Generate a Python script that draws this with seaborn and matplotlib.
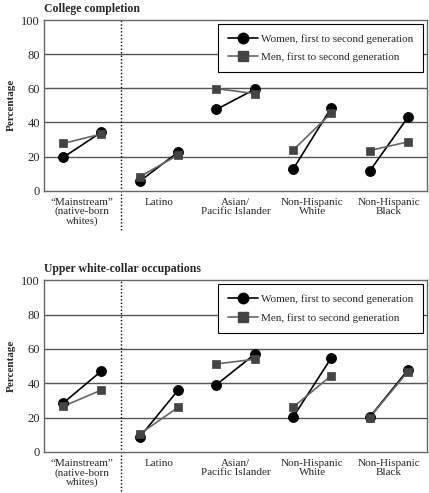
import pandas as pd
import matplotlib.pyplot as plt
import seaborn as sns
from matplotlib.lines import Line2D

# Dati
gruppi = ["\u201cMainstream\u201d\n(native-born\nwhites)", "Latino",
          "Asian/\nPacific Islander", "Non-Hispanic\nWhite", "Non-Hispanic\nBlack"]

college_donne_prima = [19.5, 5.5, 47.6, 12.5, 11.4]
college_donne_seconda = [34.3, 22.6, 59.4, 48.6, 43.0]
college_uomini_prima = [27.7, 8.2, 59.8, 23.7, 23.5]
college_uomini_seconda = [33.2, 20.9, 56.9, 45.5, 28.6]

colletti_donne_prima = [28.5, 8.7, 39.2, 20.2, 20.2]
colletti_donne_seconda = [47.2, 36.0, 56.9, 54.8, 47.8]
colletti_uomini_prima = [26.6, 10.5, 51.3, 26.0, 20.0]
colletti_uomini_seconda = [36.1, 26.0, 54.0, 44.5, 46.8]

sesso = ["Women, first to second generation", "Men, first to second generation"]
titoli = ["College completion", "Upper white-collar occupations"]
y_ticks = [0, 20, 40, 60, 80, 100]


def costruisci_df(donne_1, donne_2, uomini_1, uomini_2):
    righe = []
    for i in range(len(gruppi)):
        for s, v1, v2 in [(sesso[0], donne_1[i], donne_2[i]), (sesso[1], uomini_1[i], uomini_2[i])]:
            righe.append({"gruppo": i, "sesso": s, "x": i - 0.25, "valore": v1})
            righe.append({"gruppo": i, "sesso": s, "x": i + 0.25, "valore": v2})
    return pd.DataFrame(righe)


dati = [
    costruisci_df(college_donne_prima, college_donne_seconda, college_uomini_prima, college_uomini_seconda),
    costruisci_df(colletti_donne_prima, colletti_donne_seconda, colletti_uomini_prima, colletti_uomini_seconda),
]

sns.set_style("white")
plt.rcParams["font.family"] = ["Liberation Serif", "DejaVu Serif"]

colori_linee = {sesso[0]: "black", sesso[1]: "#666666"}
colori_marker = {sesso[0]: "black", sesso[1]: "#444444"}
marker = {sesso[0]: "o", sesso[1]: "s"}
dimensioni = {sesso[0]: 52, sesso[1]: 40}

fig = plt.figure(figsize=(4.29, 4.93), dpi=100)
posizioni = [[0.1026, 0.6132, 0.8928, 0.3462], [0.1026, 0.0832, 0.8928, 0.3482]]

for df, titolo, pos in zip(dati, titoli, posizioni):
    ax = fig.add_axes(pos)
    for y in [20, 40, 60, 80]:
        ax.axhline(y, color="#555555", lw=1, zorder=0)
    for s in sesso:
        sub = df[df["sesso"] == s]
        sns.lineplot(data=sub, x="x", y="valore", units="gruppo", estimator=None,
                     color=colori_linee[s], lw=1.2, ax=ax, legend=False, zorder=2)
        sns.scatterplot(data=sub, x="x", y="valore", marker=marker[s], s=dimensioni[s],
                        color=colori_marker[s], edgecolor=colori_marker[s], ax=ax,
                        legend=False, zorder=3)
    ax.axvline(0.5, ymin=-0.23, ymax=1, color="black", ls=(0, (1, 1.5)), lw=1,
               clip_on=False, zorder=1)
    ax.set_xlim(-0.5, 4.5)
    ax.set_ylim(0, 100)
    ax.set_yticks(y_ticks)
    ax.set_xticks(range(len(gruppi)))
    ax.set_xticklabels(gruppi, fontsize=8, linespacing=1.0)
    ax.tick_params(axis="y", length=0, pad=3, labelsize=9)
    ax.tick_params(axis="x", length=0, pad=5)
    ax.set_xlabel("")
    ax.set_ylabel("Percentage", fontsize=8, fontweight="bold", labelpad=4)
    ax.set_title(titolo, loc="left", fontsize=8.5, fontweight="bold", pad=6)
    for sp in ax.spines.values():
        sp.set_color("#666666")
        sp.set_linewidth(1)
    handles = [
        Line2D([], [], color="black", marker="o", markersize=7.5, lw=1.2, label=sesso[0]),
        Line2D([], [], color="#666666", marker="s", markersize=6.5, markerfacecolor="#444444",
               markeredgecolor="#444444", lw=1.2, label=sesso[1]),
    ]
    leg = ax.legend(handles=handles, loc="upper right", fontsize=8, frameon=True,
                    fancybox=False, edgecolor="black", framealpha=1, borderaxespad=0.35,
                    handlelength=2.7, handletextpad=0.3, labelspacing=0.8, borderpad=0.9)
    leg.get_frame().set_linewidth(0.8)

plt.savefig("out.png", dpi=100)
